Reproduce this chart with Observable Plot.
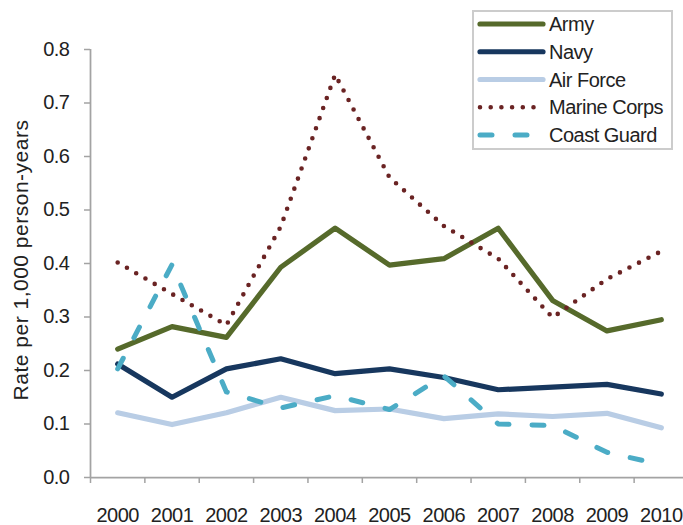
<!DOCTYPE html>
<html>
<head>
<meta charset="utf-8">
<script src="https://cdn.jsdelivr.net/npm/d3@7"></script>
<script src="https://cdn.jsdelivr.net/npm/@observablehq/plot@0.6"></script>
<style>
  body { margin: 0; background: #fff; }
  #wrap { position: relative; width: 683px; height: 525px; }
  #legend { position: absolute; left: 472px; top: 10px; }
  text { font-family: "Liberation Sans", Arial, sans-serif; }
</style>
</head>
<body>
<div id="wrap"></div>
<script>
const years = [2000, 2001, 2002, 2003, 2004, 2005, 2006, 2007, 2008, 2009, 2010];
const army        = [0.240, 0.282, 0.262, 0.393, 0.466, 0.397, 0.409, 0.466, 0.331, 0.274, 0.295];
const navy        = [0.212, 0.150, 0.203, 0.222, 0.194, 0.203, 0.187, 0.164, 0.169, 0.174, 0.156];
const airForce    = [0.121, 0.099, 0.121, 0.150, 0.125, 0.128, 0.110, 0.119, 0.114, 0.120, 0.093];
const marineCorps = [0.402, 0.343, 0.285, 0.469, 0.753, 0.561, 0.470, 0.409, 0.299, 0.371, 0.423];
const coastGuard  = [0.203, 0.398, 0.160, 0.130, 0.153, 0.127, 0.190, 0.100, 0.097, 0.047, 0.024];
const yTicks = [0, 0.1, 0.2, 0.3, 0.4, 0.5, 0.6, 0.7, 0.8];
const yLabel = "Rate per 1,000 person-years";

const seriesNames = ["Army", "Navy", "Air Force", "Marine Corps", "Coast Guard"];
const seriesValues = [army, navy, airForce, marineCorps, coastGuard];
const seriesColors = ["#566a2b", "#17375e", "#b9cde5", "#6a2323", "#4bacc6"];
const seriesDash = [null, null, null, "0,10.7", "12,23"];
const seriesWidth = [5.2, 5.2, 5.2, 4.6, 5];

const boundaries = d3.range(years.length + 1).map(i => years[0] - 0.5 + i);
const axisGray = "#a3a3a3";

const lineMarks = seriesNames.map((name, s) =>
  Plot.line(years.map((yr, i) => ({year: yr, value: seriesValues[s][i]})), {
    x: "year", y: "value",
    stroke: seriesColors[s], strokeWidth: seriesWidth[s],
    strokeDasharray: seriesDash[s] ?? undefined,
    strokeLinecap: "round", strokeLinejoin: "round"
  })
);

const chart = Plot.plot({
  width: 683,
  height: 525,
  marginLeft: 90,
  marginRight: 0,
  marginTop: 49,
  marginBottom: 48,
  style: {fontFamily: "'Liberation Sans', Arial, sans-serif", fontSize: "20px", color: "#222", background: "#fff"},
  x: {type: "linear", domain: [boundaries[0], boundaries[boundaries.length - 1]], range: [90, 688], label: null},
  y: {domain: [0, 0.8], range: [477, 49], label: null},
  marks: [
    Plot.ruleY([0], {stroke: axisGray, strokeWidth: 1.75}),
    Plot.ruleX([boundaries[0]], {y1: 0, y2: 0.8, stroke: axisGray, strokeWidth: 1.75}),
    Plot.axisX({ticks: boundaries, tickFormat: () => "", tickSize: 6, stroke: axisGray, strokeWidth: 1.5, label: null}),
    Plot.axisX({ticks: years, tickFormat: d => String(d), tickSize: 0, tickPadding: 30, fill: "#222", label: null}),
    Plot.axisY({ticks: yTicks, tickFormat: d3.format(".1f"), tickSize: 6, tickPadding: 15, stroke: axisGray, strokeWidth: 1.5, fill: "#222", label: null}),
    Plot.text([yLabel], {text: d => d, frameAnchor: "left", rotate: -90, dx: -69, dy: -3.5, textAnchor: "middle", fill: "#222", fontSize: 21}),
    ...lineMarks
  ]
});
d3.select(chart).selectAll("text").each(function() {
  if (this.textContent === yLabel) d3.select(this).style("letter-spacing", "0.5px");
  else d3.select(this).style("letter-spacing", "-0.5px");
});

const wrap = document.getElementById("wrap");
wrap.appendChild(chart);

// Legend overlay
const lg = d3.select(wrap).append("svg").attr("id", "legend").attr("width", 202).attr("height", 141);
lg.append("rect").attr("x", 1).attr("y", 1).attr("width", 199).attr("height", 138)
  .attr("fill", "#fff").attr("stroke", "#cccccc").attr("stroke-width", 2);
seriesNames.forEach((name, s) => {
  const cy = 14 + s * 27.75;
  lg.append("line").attr("x1", 8).attr("x2", s === 3 ? 68 : 71).attr("y1", cy).attr("y2", cy)
    .attr("stroke", seriesColors[s]).attr("stroke-width", seriesWidth[s])
    .attr("stroke-linecap", "round")
    .attr("stroke-dasharray", seriesDash[s]);
  lg.append("text").attr("x", 77).attr("y", cy).attr("dy", "0.35em")
    .attr("font-size", 20).attr("fill", "#222").style("letter-spacing", "-0.5px").text(name);
});
</script>
</body>
</html>
